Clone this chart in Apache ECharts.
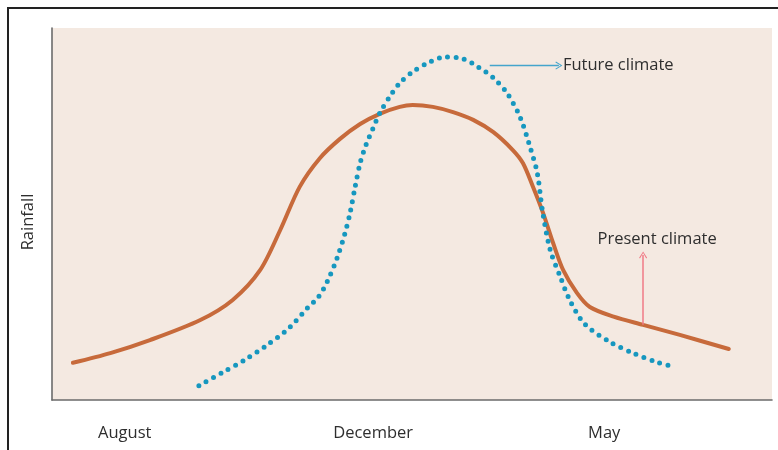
<!DOCTYPE html>
<html>
<head>
<meta charset="utf-8">
<script src="https://cdn.jsdelivr.net/npm/echarts@6/dist/echarts.min.js"></script>
<style>
  html, body { margin: 0; padding: 0; background: #fff; }
  #frame { position: absolute; left: 7px; top: 7px; width: 900px; height: 600px;
           border-left: 2.5px solid #222; border-top: 2.5px solid #222; }
  #chart { position: absolute; left: 0; top: 0; width: 778px; height: 450px; }
</style>
</head>
<body>
<div id="frame"></div>
<div id="chart"></div>
<script>
// Month tick labels and their positions on the (abstract) time axis
const monthLabels = ['August', 'December', 'May'];
const monthPositions = [10.1, 44.6, 76.7];

// Present climate rainfall (solid line): [time, rainfall]
const presentClimate = [
  [2.9, 10.0], [8.1, 12.6], [13.6, 16.1], [20.6, 21.5], [25.1, 26.9],
  [28.9, 34.9], [31.7, 45.7], [34.4, 57.3], [37.2, 65.0], [40.0, 70.2],
  [42.8, 74.2], [45.6, 77.0], [48.3, 78.8], [50.1, 79.3], [52.9, 78.8],
  [55.7, 77.4], [58.5, 75.3], [61.3, 72.0], [64.0, 67.2], [65.4, 63.7],
  [66.8, 57.3], [68.2, 50.3], [69.6, 42.2], [71.0, 34.9], [72.9, 28.8],
  [74.7, 25.0], [78.0, 22.4], [82.1, 20.2], [87.2, 17.5], [94.0, 13.7]
];

// Future climate rainfall (dotted line): [time, rainfall]
const futureClimate = [
  [20.4, 3.8], [23.6, 7.3], [26.8, 10.8], [29.9, 14.8], [32.8, 19.1],
  [35.6, 25.0], [36.9, 27.4], [38.2, 31.7], [39.6, 38.2], [40.7, 44.9],
  [41.4, 50.3], [42.1, 57.3], [42.8, 63.7], [43.6, 68.5], [44.6, 73.1],
  [45.6, 77.4], [46.9, 81.5], [48.3, 85.2], [50.1, 88.2], [52.5, 90.9],
  [54.6, 92.2], [57.1, 91.7], [59.2, 89.5], [61.3, 86.6], [63.2, 82.5],
  [65.0, 76.1], [66.4, 68.0], [67.4, 61.0], [68.1, 51.1], [69.2, 40.3],
  [70.6, 33.1], [71.9, 26.9], [74.0, 20.4], [77.5, 15.6], [80.7, 12.6],
  [84.0, 10.2], [86.4, 8.9]
];

// Annotation arrows: [start, end] in data units
const futureArrow = [[60.8, 89.9], [70.4, 89.9]];
const presentArrow = [[82.1, 20.2], [82.1, 39.0]];

const FONT = '"Open Sans", "Noto Sans", sans-serif';
const chevron = 'path://M0,10 L5,0 L10,10 L8.9,10.9 L5,2.6 L1.1,10.9 Z';

const chart = echarts.init(document.getElementById('chart'), null, { renderer: 'canvas' });
chart.setOption({
  animation: false,
  grid: {
    left: 52, top: 28, right: 6, bottom: 50,
    show: true, backgroundColor: '#f4e9e1', borderWidth: 0
  },
  xAxis: {
    type: 'value', min: 0, max: 100,
    splitLine: { show: false },
    axisTick: { show: false },
    axisLine: { show: true, lineStyle: { color: '#6b6b6b', width: 1.6 } },
    axisLabel: {
      show: true,
      customValues: monthPositions,
      margin: 25,
      color: '#2e2e2e',
      fontFamily: FONT,
      fontSize: 16.5,
      formatter: function (v) {
        let best = 0;
        for (let i = 1; i < monthPositions.length; i++) {
          if (Math.abs(monthPositions[i] - v) < Math.abs(monthPositions[best] - v)) best = i;
        }
        return monthLabels[best];
      }
    }
  },
  yAxis: {
    type: 'value', min: 0, max: 100,
    name: 'Rainfall',
    nameLocation: 'middle',
    nameRotate: 90,
    nameGap: 15,
    nameTextStyle: { color: '#2e2e2e', fontFamily: FONT, fontSize: 16.5, padding: [0, 16, 0, 0] },
    splitLine: { show: false },
    axisTick: { show: false },
    axisLabel: { show: false },
    axisLine: { show: true, lineStyle: { color: '#6b6b6b', width: 1.6 } }
  },
  series: [
    {
      name: 'Present climate',
      type: 'line',
      data: presentClimate,
      smooth: 0.3,
      showSymbol: false,
      lineStyle: { color: '#c76a3b', width: 4, cap: 'round' },
      markLine: {
        silent: true,
        symbol: ['none', chevron],
        symbolSize: [8, 7],
        lineStyle: { color: '#f07a86', width: 1.5, type: 'solid' },
        label: {
          show: true, position: 'end', distance: 7,
          formatter: 'Present climate',
          color: '#2e2e2e', fontFamily: FONT, fontSize: 16.5,
          padding: [0, 0, 0, 28]
        },
        data: [[{ coord: presentArrow[0] }, { coord: presentArrow[1] }]]
      }
    },
    {
      name: 'Future climate',
      type: 'line',
      data: futureClimate,
      smooth: 0.3,
      showSymbol: false,
      lineStyle: { color: '#1697bf', width: 5, type: [0, 8.4], cap: 'round' },
      markLine: {
        silent: true,
        symbol: ['none', chevron],
        symbolSize: [8, 7],
        lineStyle: { color: '#44a5cc', width: 1.4, type: 'solid' },
        label: {
          show: true, position: 'end', distance: 4,
          formatter: 'Future climate',
          color: '#2e2e2e', fontFamily: FONT, fontSize: 16.5
        },
        data: [[{ coord: futureArrow[0] }, { coord: futureArrow[1] }]]
      }
    }
  ]
});
</script>
</body>
</html>
